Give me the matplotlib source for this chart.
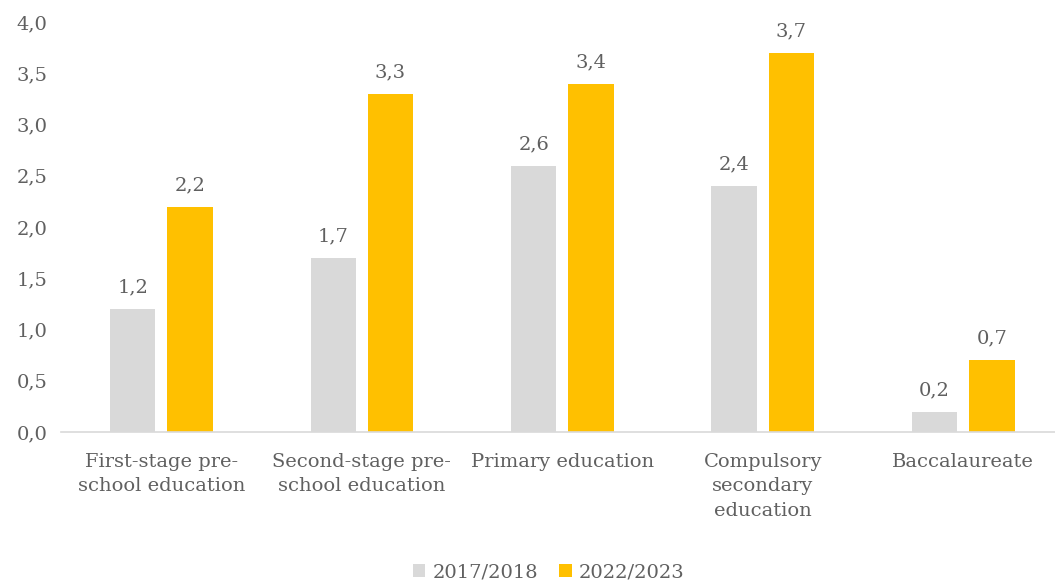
import numpy as np
import matplotlib
matplotlib.use("Agg")
from matplotlib import pyplot as plt

categories = ["First-stage pre-\nschool education", "Second-stage pre-\nschool education",
              "Primary education", "Compulsory\nsecondary\neducation", "Baccalaureate"]
series_names = ["2017/2018", "2022/2023"]
values_2017 = [1.2, 1.7, 2.6, 2.4, 0.2]
values_2022 = [2.2, 3.3, 3.4, 3.7, 0.7]
yticks = [0.0, 0.5, 1.0, 1.5, 2.0, 2.5, 3.0, 3.5, 4.0]

colors = ["#D9D9D9", "#FFC000"]
textcolor = "#606060"
plt.rcParams["font.family"] = ["DejaVu Serif"]

fig = plt.figure(figsize=(10.55, 5.8), dpi=100)
ax = fig.add_axes([0.058, 0.255, 0.95, 0.707])

x = np.arange(len(categories))
w = 0.226
off = 0.143
for vals, dx, col, name in [(values_2017, -off, colors[0], series_names[0]),
                            (values_2022, off, colors[1], series_names[1])]:
    bars = ax.bar(x + dx, vals, width=w, color=col, label=name)
    for b, v in zip(bars, vals):
        ax.annotate(f"{v:.1f}".replace(".", ","), (b.get_x() + b.get_width() / 2, v),
                    xytext=(0, 9), textcoords="offset points", ha="center", va="bottom",
                    fontsize=14, color=textcolor)

ax.set_xlim(-0.5, len(categories) - 0.5)
ax.set_ylim(0, 4.0)
ax.set_yticks(yticks)
ax.set_yticklabels([f"{t:.1f}".replace(".", ",") for t in yticks], fontsize=14, color=textcolor)
ax.set_xticks(x)
ax.set_xticklabels(categories, fontsize=14, color=textcolor, linespacing=1.45, va="top")
ax.tick_params(axis="both", length=0)
ax.tick_params(axis="x", pad=15)
ax.tick_params(axis="y", pad=10)
for s in ["top", "right", "left"]:
    ax.spines[s].set_visible(False)
ax.spines["bottom"].set_color("#D9D9D9")
ax.spines["bottom"].set_linewidth(1.2)

fig.legend(loc="lower center", bbox_to_anchor=(0.52, -0.032), ncol=2, frameon=False,
           fontsize=14, labelcolor=textcolor, handlelength=0.65, handleheight=0.65,
           handletextpad=0.35, columnspacing=1.1)

fig.savefig("out.png", dpi=100)
